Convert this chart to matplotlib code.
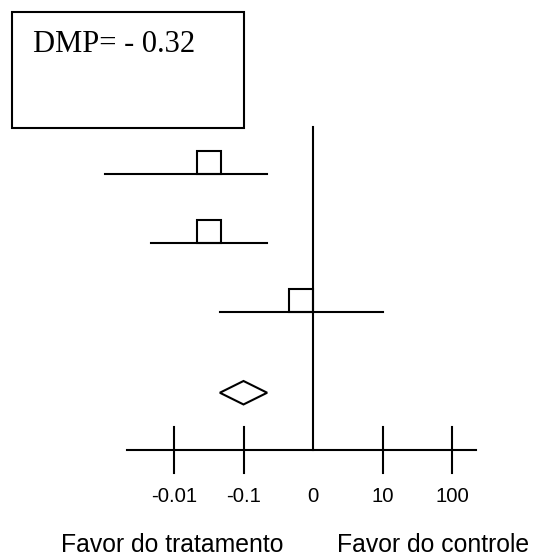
import matplotlib.pyplot as plt
from matplotlib.patches import Rectangle, Polygon

# estimates on the log-like scale (tick units), one row per study
study_est = [-1.5, -1.5, -0.17]
study_lo = [-2.99, -2.33, -1.34]
study_hi = [-0.66, -0.66, 1.01]
study_row = [0, 1, 2]

pooled_est = -1.0
pooled_lo = -1.34
pooled_hi = -0.66
pooled_row = 3.17

tick_pos = [-2, -1, 0, 1, 2]
tick_labels = ['-0.01', '-0.1', '0', '10', '100']
summary_text = 'DMP= - 0.32'
left_label = 'Favor do tratamento'
right_label = 'Favor do controle'

W, H = 537, 556
fig = plt.figure(figsize=(W/100, H/100), dpi=100)
ax = fig.add_axes([0, 0, 1, 1])
ax.set_xlim(-313/69.5, (W-313)/69.5)
ax.set_ylim((H-174)/69.0, -174/69.0)
ax.axis('off')

lw = 1.5
axis_y = 4.0
sq_w = 0.345
sq_h = 0.333

# horizontal axis and ticks
ax.plot([-2.68, 2.35], [axis_y, axis_y], color='black', lw=lw)
for t, lab in zip(tick_pos, tick_labels):
	if t != 0:
		ax.plot([t, t], [axis_y-0.33, axis_y+0.34], color='black', lw=lw)
	ax.text(t, axis_y+0.68, lab, ha='center', va='center', fontsize=14.6, family='Liberation Sans')

# line of no effect
ax.plot([0, 0], [-0.68, axis_y], color='black', lw=lw)

# studies
for e, lo, hi, r in zip(study_est, study_lo, study_hi, study_row):
	ax.plot([lo, hi], [r, r], color='black', lw=lw)
	ax.add_patch(Rectangle((e-sq_w/2, r-sq_h), sq_w, sq_h, fill=False, edgecolor='black', lw=lw))

# pooled diamond
dh = 0.17
ax.add_patch(Polygon([(pooled_lo, pooled_row), (pooled_est, pooled_row-dh),
	(pooled_hi, pooled_row), (pooled_est, pooled_row+dh)], closed=True,
	fill=False, edgecolor='black', lw=lw))

# summary box
ax.add_patch(Rectangle((-4.33, -2.348), 3.337, 1.681, fill=False, edgecolor='black', lw=lw))
fig.text(33/W, 1-52/H, summary_text, ha='left', va='baseline', fontsize=22, family='Liberation Serif')

fig.text(61/W, 1-552/H, left_label, ha='left', va='baseline', fontsize=17.8, family='Liberation Sans')
fig.text(337/W, 1-552/H, right_label, ha='left', va='baseline', fontsize=17.8, family='Liberation Sans')

fig.savefig('out.png', dpi=100)
